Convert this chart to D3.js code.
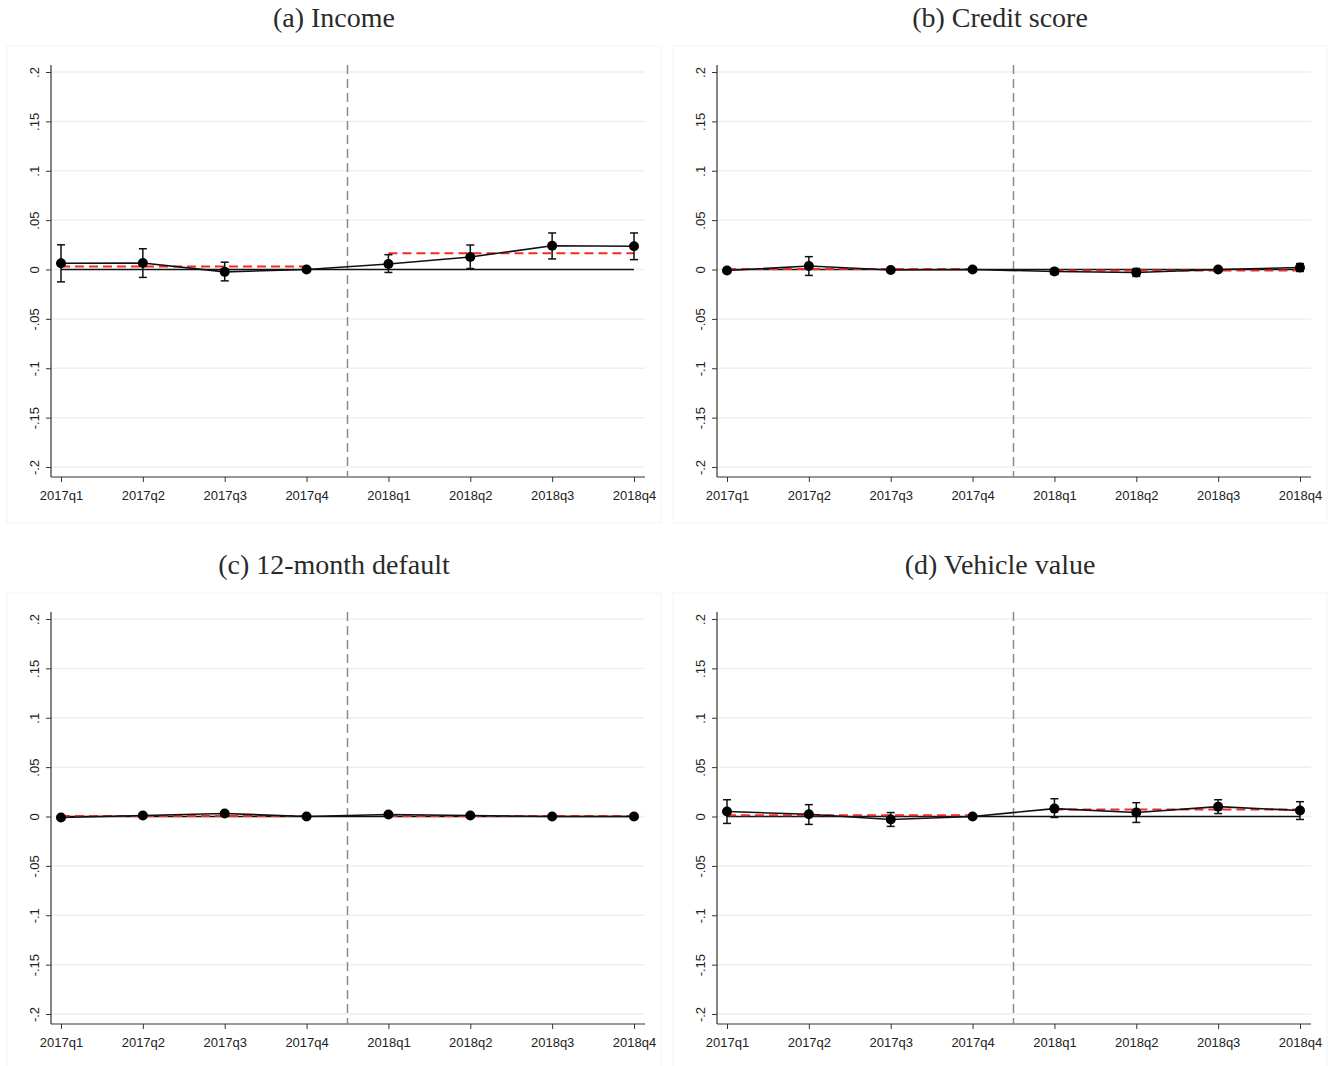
<!DOCTYPE html>
<html>
<head>
<meta charset="utf-8">
<script src="https://cdn.jsdelivr.net/npm/d3@7"></script>
<style>
  body { margin: 0; background: white; }
</style>
</head>
<body>
<svg id="vis"></svg>
<script>
// chart data
const quarters = ['2017q1', '2017q2', '2017q3', '2017q4', '2018q1', '2018q2', '2018q3', '2018q4']
const titles = ['(a) Income', '(b) Credit score', '(c) 12-month default', '(d) Vehicle value']
const yTicks = [-0.2, -0.15, -0.1, -0.05, 0, 0.05, 0.1, 0.15, 0.2]
const yTickLabels = ['-.2', '-.15', '-.1', '-.05', '0', '.05', '.1', '.15', '.2']

const incomeEst = [0.0064, 0.0066, -0.0024, 0, 0.0056, 0.0127, 0.024, 0.0235]
const incomeLo = [-0.0125, -0.008, -0.0115, 0, -0.003, 0.001, 0.0107, 0.010]
const incomeHi = [0.025, 0.021, 0.0074, 0, 0.015, 0.0248, 0.037, 0.037]

const creditEst = [-0.001, 0.0035, -0.0005, 0, -0.002, -0.003, 0, 0.002]
const creditLo = [-0.003, -0.006, -0.002, 0, -0.005, -0.007, -0.001, -0.002]
const creditHi = [0.001, 0.013, 0.001, 0, 0.001, 0.001, 0.001, 0.006]

const defaultEst = [-0.001, 0.001, 0.003, 0, 0.002, 0.001, 0, 0]
const defaultLo = [-0.002, 0, 0.002, 0, 0.001, -0.0005, -0.001, -0.001]
const defaultHi = [0, 0.002, 0.004, 0, 0.003, 0.0025, 0.001, 0.001]

const vehicleEst = [0.005, 0.0023, -0.003, 0, 0.008, 0.004, 0.010, 0.006]
const vehicleLo = [-0.007, -0.008, -0.010, 0, -0.001, -0.006, 0.003, -0.003]
const vehicleHi = [0.017, 0.012, 0.004, 0, 0.018, 0.014, 0.017, 0.015]

const meanPre = [0.003, 0.0005, 0.0005, 0.0013]
const meanPost = [0.0165, -0.001, 0.0005, 0.007]

const estimates = [incomeEst, creditEst, defaultEst, vehicleEst]
const lows = [incomeLo, creditLo, defaultLo, vehicleLo]
const highs = [incomeHi, creditHi, defaultHi, vehicleHi]

// layout
const PANEL_X = [0, 666]
const PANEL_Y = [0, 547]

var svg = d3.select('#vis')
    .attr('width', 1336)
    .attr('height', 1066)

function drawPanel(k) {
    var ox = PANEL_X[k % 2]
    var oy = PANEL_Y[Math.floor(k / 2)]
    var g = svg.append('g').attr('transform', `translate(${ox},${oy})`)

    // panel frame
    g.append('rect')
        .attr('x', 7).attr('y', 46)
        .attr('width', 654).attr('height', 477)
        .attr('fill', 'white')
        .attr('stroke', '#f6f7f8')
        .attr('stroke-width', 1.5)

    // title
    g.append('text')
        .attr('x', 334).attr('y', 27)
        .attr('text-anchor', 'middle')
        .attr('font-family', 'Liberation Serif, serif')
        .attr('font-size', 28)
        .attr('fill', '#2a2a2a')
        .text(titles[k])

    var x = d3.scalePoint().domain(quarters).range([61, 634])
    var y = d3.scaleLinear().domain([-0.2, 0.2]).range([467, 72])
    var left = 51, right = 645, top = 65, bottom = 477

    // gridlines
    g.selectAll('.grid').data(yTicks).enter().append('line')
        .attr('x1', left).attr('x2', right)
        .attr('y1', d => y(d)).attr('y2', d => y(d))
        .attr('stroke', '#eaf1f3')
        .attr('stroke-width', 1.5)

    // y axis
    var yAxis = g.append('g')
        .attr('transform', `translate(${left},0)`)
        .call(d3.axisLeft(y).tickValues(yTicks).tickFormat((d, i) => yTickLabels[i]).tickSize(5).tickSizeOuter(0))
    yAxis.select('.domain').attr('d', `M0,${top}V${bottom}`).attr('stroke', '#333').attr('stroke-width', 1.2)
    yAxis.selectAll('.tick line').attr('stroke', '#333')
    yAxis.selectAll('.tick text')
        .attr('x', null).attr('dy', null)
        .attr('transform', 'translate(-12,0) rotate(-90)')
        .attr('text-anchor', 'middle')
        .attr('font-family', 'Liberation Sans, Arial, sans-serif')
        .attr('font-size', 13)
        .attr('fill', '#222')

    // x axis
    var xAxis = g.append('g')
        .attr('transform', `translate(0,${bottom})`)
        .call(d3.axisBottom(x).tickSize(5).tickSizeOuter(0))
    xAxis.select('.domain').attr('d', `M${left},0H${right}`).attr('stroke', '#333').attr('stroke-width', 1.2)
    xAxis.selectAll('.tick line').attr('stroke', '#333')
    xAxis.selectAll('.tick text')
        .attr('y', 14)
        .attr('font-family', 'Liberation Sans, Arial, sans-serif')
        .attr('font-size', 13)
        .attr('fill', '#222')

    // treatment line between 2017q4 and 2018q1
    var xm = (x('2017q4') + x('2018q1')) / 2
    g.append('line')
        .attr('x1', xm).attr('x2', xm)
        .attr('y1', top).attr('y2', bottom)
        .attr('stroke', '#8c8c8c')
        .attr('stroke-width', 1.5)
        .attr('stroke-dasharray', '9,5')

    // zero reference line
    g.append('line')
        .attr('x1', x(quarters[0])).attr('x2', x(quarters[7]))
        .attr('y1', y(0)).attr('y2', y(0))
        .attr('stroke', '#111')
        .attr('stroke-width', 1.3)

    // pre / post means
    g.append('line')
        .attr('x1', x(quarters[0])).attr('x2', x(quarters[3]))
        .attr('y1', y(meanPre[k])).attr('y2', y(meanPre[k]))
        .attr('stroke', '#f42a2a').attr('stroke-width', 2)
        .attr('stroke-dasharray', '9,5')
    g.append('line')
        .attr('x1', x(quarters[4])).attr('x2', x(quarters[7]))
        .attr('y1', y(meanPost[k])).attr('y2', y(meanPost[k]))
        .attr('stroke', '#f42a2a').attr('stroke-width', 2)
        .attr('stroke-dasharray', '9,5')

    var est = estimates[k], lo = lows[k], hi = highs[k]

    // connecting line
    g.append('path')
        .datum(quarters)
        .attr('d', d3.line().x(d => x(d)).y((d, i) => y(est[i])))
        .attr('fill', 'none')
        .attr('stroke', '#111')
        .attr('stroke-width', 1.6)

    // error bars
    quarters.forEach(function(q, i) {
        if (lo[i] == hi[i]) return
        var cx = x(q)
        g.append('line')
            .attr('x1', cx).attr('x2', cx)
            .attr('y1', y(lo[i])).attr('y2', y(hi[i]))
            .attr('stroke', '#111').attr('stroke-width', 1.5)
        ;[lo[i], hi[i]].forEach(function(v) {
            g.append('line')
                .attr('x1', cx - 4).attr('x2', cx + 4)
                .attr('y1', y(v)).attr('y2', y(v))
                .attr('stroke', '#111').attr('stroke-width', 1.5)
        })
    })

    // markers
    g.selectAll('.pt').data(quarters).enter().append('circle')
        .attr('cx', d => x(d))
        .attr('cy', (d, i) => y(est[i]))
        .attr('r', 5)
        .attr('fill', '#000')
}

for (let k = 0; k < 4; k++) {
    drawPanel(k)
}
</script>
</body>
</html>
